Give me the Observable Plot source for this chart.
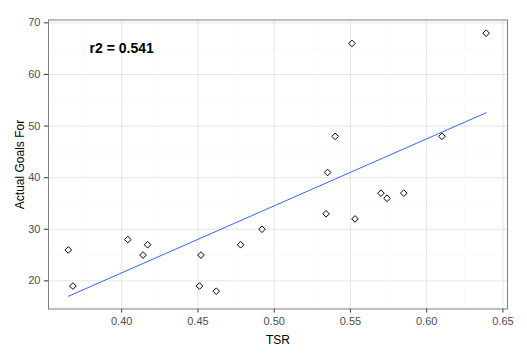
<!DOCTYPE html>
<html>
<head>
<meta charset="utf-8">
<script src="https://cdn.jsdelivr.net/npm/d3@7"></script>
<script src="https://cdn.jsdelivr.net/npm/@observablehq/plot@0.6"></script>
<style>
  html, body { margin: 0; padding: 0; background: #fff; }
  #chart svg { display: block; }
</style>
</head>
<body>
<div id="chart"></div>
<script>
const tsr = [0.365, 0.368, 0.404, 0.414, 0.417, 0.452, 0.451, 0.462, 0.478, 0.492,
             0.534, 0.535, 0.540, 0.551, 0.553, 0.570, 0.574, 0.585, 0.610, 0.639];
const goals = [26, 19, 28, 25, 27, 25, 19, 18, 27, 30,
               33, 41, 48, 66, 32, 37, 36, 37, 48, 68];
const xTicks = [0.40, 0.45, 0.50, 0.55, 0.60, 0.65];
const xMinor = [0.375, 0.425, 0.475, 0.525, 0.575, 0.625];
const yTicks = [20, 30, 40, 50, 60, 70];
const yMinor = [15, 25, 35, 45, 55, 65];
const annotation = ["r2 = 0.541"];
const annotationPos = {x: 0.4, y: 65};

const data = tsr.map((x, i) => ({x, y: goals[i]}));
const font = "'Liberation Sans', Arial, sans-serif";

const chart = Plot.plot({
  width: 527,
  height: 354,
  marginLeft: 48,
  marginRight: 20,
  marginTop: 19.5,
  marginBottom: 45.5,
  style: {fontFamily: font, fontSize: "11px", background: "#fff"},
  x: {domain: [0.352, 0.653]},
  y: {domain: [14.55, 70.55]},
  marks: [
    Plot.gridX(xMinor, {stroke: "#fafafa", strokeOpacity: 1, strokeWidth: 1}),
    Plot.gridY(yMinor, {stroke: "#fafafa", strokeOpacity: 1, strokeWidth: 1}),
    Plot.gridX(xTicks, {stroke: "#e5e5e5", strokeOpacity: 1, strokeWidth: 1}),
    Plot.gridY(yTicks, {stroke: "#e5e5e5", strokeOpacity: 1, strokeWidth: 1}),
    Plot.axisX(xTicks, {tickSize: 4, tickPadding: 4, tickFormat: d3.format(".2f"),
      stroke: "#333", fill: "#4d4d4d", label: null, fontSize: 11}),
    Plot.axisY(yTicks, {tickSize: 4, tickPadding: 4, tickFormat: d3.format("d"),
      stroke: "#333", fill: "#4d4d4d", label: null, fontSize: 11}),
    Plot.linearRegressionY(data, {x: "x", y: "y", stroke: "#3366FF", strokeWidth: 1, ci: 0}),
    Plot.dot(data, {x: "x", y: "y", symbol: "diamond2", r: 3, stroke: "#000", strokeWidth: 1, fill: "none"}),
    Plot.text(annotation, {x: () => annotationPos.x, y: () => annotationPos.y, text: d => d,
      fontWeight: "bold", fontSize: 14, fill: "#000"}),
    Plot.frame({stroke: "#7f7f7f", strokeWidth: 1}),
    Plot.text(["TSR"], {frameAnchor: "bottom", dy: 31, lineAnchor: "middle", fontSize: 12, fill: "#000"}),
    Plot.text(["Actual Goals For"], {frameAnchor: "left", dx: -28, rotate: -90, lineAnchor: "middle",
      textAnchor: "middle", fontSize: 12, fill: "#000"})
  ]
});
document.getElementById("chart").appendChild(chart);
</script>
</body>
</html>
